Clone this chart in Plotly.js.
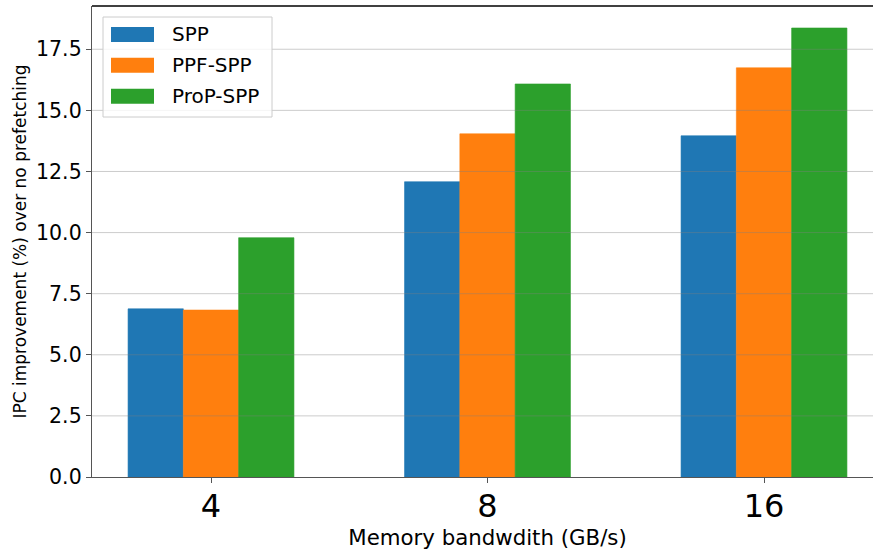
<!DOCTYPE html>
<html>
<head>
<meta charset="utf-8">
<script src="https://cdn.plot.ly/plotly-3.0.1.min.js"></script>
<style>html,body{margin:0;padding:0;background:#fff;overflow:hidden;}#wrap{width:873px;height:552px;overflow:hidden;}#chart{width:883px;height:552px;}</style>
</head>
<body>
<div id="wrap"><div id="chart"></div></div>
<script>
const categories = ["4", "8", "16"];
const seriesNames = ["SPP", "PPF-SPP", "ProP-SPP"];
const sppValues = [6.88, 12.08, 13.96];
const ppfSppValues = [6.83, 14.04, 16.74];
const propSppValues = [9.79, 16.08, 18.37];
const yTicks = [0, 2.5, 5, 7.5, 10, 12.5, 15, 17.5];
const colors = ["#1f77b4", "#ff7f0e", "#2ca02c"];

const allValues = [sppValues, ppfSppValues, propSppValues];
const traces = allValues.map((vals, i) => ({
  type: "bar",
  name: seriesNames[i],
  x: categories,
  y: vals,
  marker: {color: colors[i], line: {width: 0.6, color: colors[i]}},
  hoverinfo: "name+y"
}));

// The full figure is slightly wider than the visible window (right part cropped, as in the reference)
const W = 883, H = 552;
const L = 92, R = 0, T = 6, B = 75;
const pw = W - L - R, ph = H - T - B;
const px = v => (v - L) / pw;
const py = v => (H - B - v) / ph;

const shapes = [];
// gridlines drawn above bars (semi-transparent)
yTicks.forEach(t => {
  if (t === 0) return;
  shapes.push({type: "line", xref: "paper", yref: "y", x0: 0, x1: 1, y0: t, y1: t,
    line: {color: "rgba(128,128,128,0.4)", width: 1}, layer: "above"});
});
// top spine
shapes.push({type: "line", xref: "paper", yref: "paper", x0: 0, x1: 1, y0: 1, y1: 1,
  line: {color: "#000", width: 1.3}, layer: "above"});

// custom legend (matplotlib style)
const legBox = {x0: 103, x1: 272, y0: 17, y1: 117};
shapes.push({type: "rect", xref: "paper", yref: "paper",
  x0: px(legBox.x0), x1: px(legBox.x1), y0: py(legBox.y1), y1: py(legBox.y0),
  line: {color: "#cccccc", width: 1}, fillcolor: "rgba(255,255,255,0.8)", layer: "above"});
const rowCenters = [34.5, 65.3, 96.3];
const annotations = [];
seriesNames.forEach((n, i) => {
  const c = rowCenters[i];
  shapes.push({type: "rect", xref: "paper", yref: "paper",
    x0: px(111), x1: px(154), y0: py(c + 7.5), y1: py(c - 7.5),
    line: {width: 0}, fillcolor: colors[i], layer: "above"});
  annotations.push({xref: "paper", yref: "paper", x: px(170), y: py(c),
    xanchor: "left", yanchor: "middle", text: n, showarrow: false,
    font: {size: 20, color: "#000"}});
});

const layout = {
  width: W, height: H,
  margin: {l: L, r: R, t: T, b: B, pad: 0},
  paper_bgcolor: "#fff", plot_bgcolor: "#fff",
  font: {family: "DejaVu Sans, sans-serif", color: "#000"},
  showlegend: false,
  barmode: "group",
  bargap: 0.4,
  bargroupgap: 0,
  xaxis: {
    type: "category",
    range: [-0.4304, 2.4304],
    showgrid: false,
    showline: true, linecolor: "#555", linewidth: 1.2,
    ticks: "outside", ticklen: 5, tickwidth: 1, tickcolor: "#555",
    tickfont: {size: 32, color: "#000"},
    ticklabelstandoff: -5,
    title: {text: "Memory bandwdith (GB/s)", font: {size: 21.3, color: "#000"}, standoff: 4},
    zeroline: false
  },
  yaxis: {
    range: [0, 19.27],
    tickvals: yTicks,
    ticktext: yTicks.map(t => t.toFixed(1)),
    showgrid: false,
    showline: true, linecolor: "#555", linewidth: 1.2,
    ticks: "outside", ticklen: 5, tickwidth: 1, tickcolor: "#555",
    tickfont: {size: 20.5, color: "#000"},
    title: {text: "IPC improvement (%) over no prefetching", font: {size: 17, color: "#000"}, standoff: 5},
    zeroline: false
  },
  shapes: shapes,
  annotations: annotations
};

Plotly.newPlot("chart", traces, layout, {displayModeBar: false, staticPlot: true});
</script>
</body>
</html>
